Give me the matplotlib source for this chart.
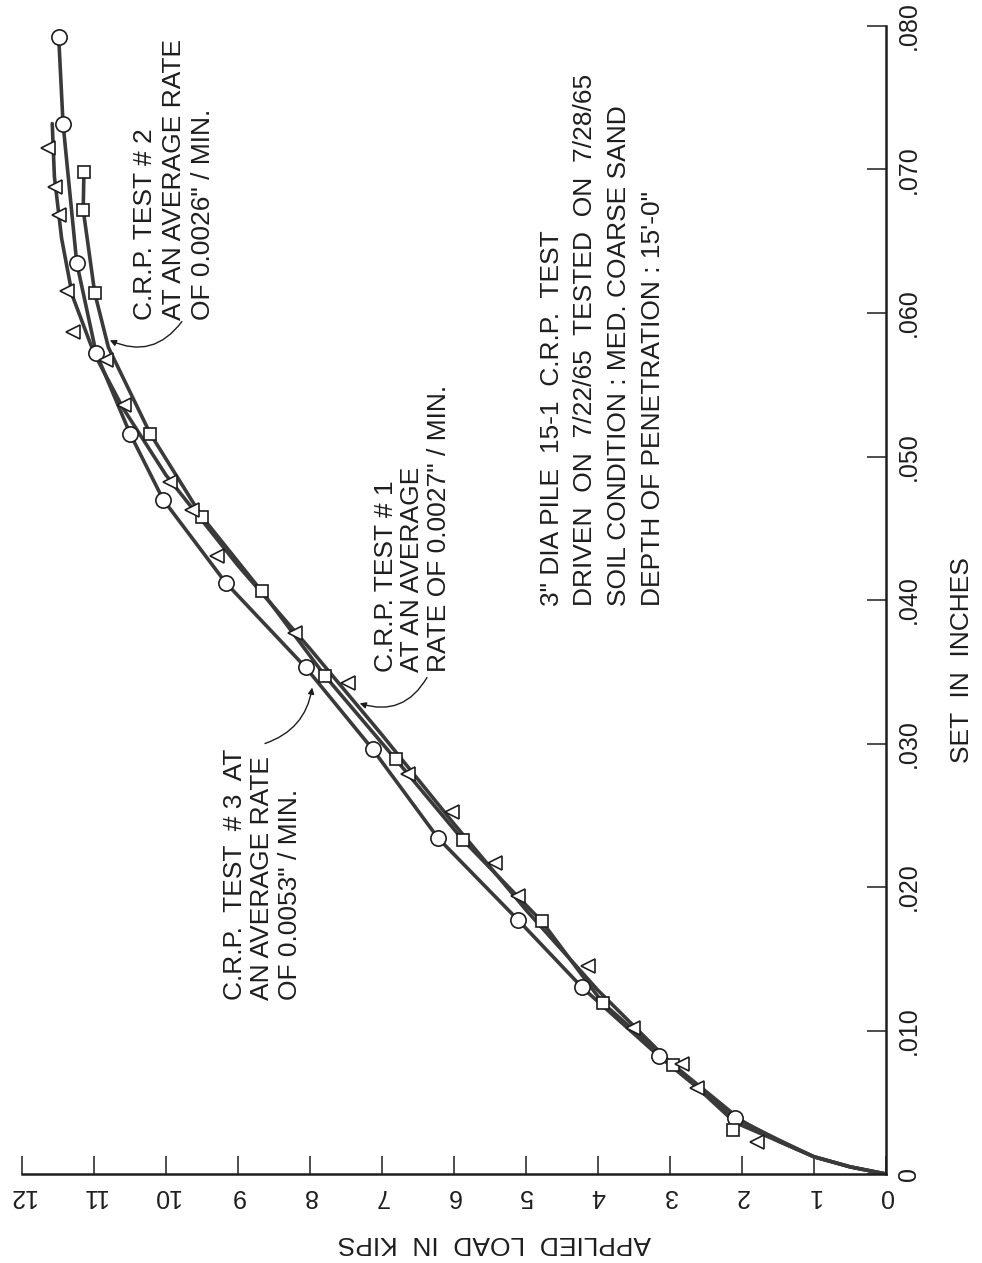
import matplotlib
matplotlib.use("Agg")
import matplotlib.pyplot as plt

# scanned page is turned on its side: load runs right-to-left along the bottom,
# set runs upward on the right-hand axis
W, H = 982, 1263

load_ticks = list(range(0, 13))
load_labels = [str(v) for v in load_ticks]
set_ticks = [0, .010, .020, .030, .040, .050, .060, .070, .080]
set_labels = ["0", ".010", ".020", ".030", ".040", ".050", ".060", ".070", ".080"]

# test 3 (circles), 0.0053"/min
t3_load = [2.10, 3.15, 4.22, 5.11, 6.22, 7.13, 8.06, 9.17, 10.04, 10.50, 10.97, 11.24, 11.43, 11.49]
t3_set = [.0039, .0082, .0130, .0177, .0234, .0296, .0353, .0412, .0470, .0516, .0572, .0635, .0732, .0792]
# test 2 (squares), 0.0026"/min
t2_load = [2.13, 2.96, 3.93, 4.78, 5.88, 6.81, 7.79, 8.67, 9.50, 10.22, 10.99, 11.15, 11.14]
t2_set = [.0031, .0076, .0119, .0176, .0233, .0289, .0347, .0406, .0458, .0516, .0614, .0672, .0698]
# test 1 (triangles), 0.0027"/min
t1_load = [1.79, 2.63, 2.83, 3.51, 4.14, 5.11, 5.43, 6.03, 6.64, 7.47, 8.21, 9.29, 9.64, 9.94,
           10.58, 10.83, 11.29, 11.38, 11.49, 11.54, 11.64]
t1_set = [.0022, .0060, .0077, .0102, .0145, .0194, .0217, .0252, .0279, .0342, .0377, .0431, .0463, .0482,
          .0536, .0567, .0587, .0615, .0668, .0688, .0715]

# faired curves as drawn on the sheet
t3_curve_load = [0, 0.5, 1.0, 1.5, 2.10, 3.15, 4.22, 5.11, 6.22, 7.13, 8.06, 9.17, 10.04, 10.50, 10.97, 11.24, 11.43, 11.49]
t3_curve_set = [0, .0005, .0012, .0024, .0039, .0082, .0130, .0177, .0234, .0296, .0353, .0412, .0470, .0516, .0572, .0635, .0732, .0792]
t2_curve_load = [0, 0.5, 1.0, 1.5, 2.1, 2.96, 3.93, 4.78, 5.88, 6.81, 7.79, 8.67, 9.50, 10.22, 10.80, 10.99, 11.15, 11.14]
t2_curve_set = [0, .0005, .0012, .0023, .0036, .0076, .0119, .0176, .0233, .0289, .0347, .0406, .0458, .0516, .0576, .0614, .0672, .0698]
t1_curve_load = [0, 0.5, 1.0, 1.5, 2.0, 3.0, 4.0, 5.0, 6.0, 7.0, 8.0, 9.0, 10.0, 10.6, 11.0, 11.3, 11.45, 11.55, 11.58]
t1_curve_set = [0, .0005, .0012, .0023, .0037, .0078, .0128, .0184, .0244, .0306, .0366, .0424, .0487, .0534, .0572, .0612, .0652, .0695, .0732]

plt.rcParams["font.family"] = ["Liberation Sans Narrow", "Liberation Sans", "DejaVu Sans"]

fig = plt.figure(figsize=(W / 100, H / 100), dpi=100)
ax = fig.add_axes([22 / W, (H - 1174) / H, 864 / W, 1148 / H])
ax.set_xlim(12, 0)
ax.set_ylim(0, 0.080)

ink = "#1e1e1e"
line_kw = dict(color="#3a3a3a", lw=2.6, solid_joinstyle="round", solid_capstyle="round", zorder=2)
ax.plot(t3_curve_load, t3_curve_set, **line_kw)
ax.plot(t2_curve_load, t2_curve_set, **line_kw)
ax.plot(t1_curve_load, t1_curve_set, **line_kw)

mk = dict(ls="none", mfc="white", mec=ink, mew=1.2, zorder=3, clip_on=False)
ax.plot(t3_load, t3_set, marker="o", ms=11, **mk)
ax.plot(t2_load, t2_set, marker="s", ms=9, **mk)
ax.plot(t1_load, t1_set, marker="<", ms=10, **mk)

for s in ["top", "left"]:
    ax.spines[s].set_visible(False)
for s in ["bottom", "right"]:
    ax.spines[s].set_linewidth(1.8)
    ax.spines[s].set_color(ink)

ax.set_xticks(load_ticks)
ax.set_xticklabels(load_labels)
ax.yaxis.tick_right()
ax.set_yticks(set_ticks)
ax.set_yticklabels(set_labels, va="center")
ax.tick_params(axis="x", direction="in", length=13, width=1.1, pad=7, labelsize=18,
               labelrotation=180, colors=ink)
ax.tick_params(axis="y", direction="in", length=14, width=1.1, pad=8, labelsize=18,
               labelrotation=90, colors=ink)


def fx(x):
    return x / W


def fy(y):
    return 1 - y / H


fig.text(fx(494), fy(1243), "APPLIED  LOAD  IN  KIPS", rotation=180, ha="center", va="center",
         fontsize=19, color=ink)
fig.text(fx(962), fy(660), "SET  IN  INCHES", rotation=90, ha="center", va="center",
         fontsize=19, color=ink)

note_kw = dict(rotation=90, ha="left", va="bottom", multialignment="left", color=ink, fontsize=19)
fig.text(fx(133), fy(320), "C.R.P. TEST # 2\nAT AN AVERAGE RATE\nOF 0.0026\" / MIN.",
         linespacing=1.26, **note_kw)
fig.text(fx(374), fy(672), "C.R.P. TEST # 1\nAT AN AVERAGE\nRATE OF 0.0027\" / MIN.",
         linespacing=1.12, **note_kw)
fig.text(fx(223), fy(1000), "C.R.P.  TEST  # 3  AT\nAN AVERAGE RATE\nOF 0.0053\" / MIN.",
         linespacing=1.18, **note_kw)
fig.text(fx(540), fy(606),
         "3\" DIA PILE  15-1  C.R.P.  TEST\nDRIVEN  ON  7/22/65  TESTED  ON  7/28/65\n"
         "SOIL CONDITION : MED. COARSE SAND\nDEPTH OF PENETRATION : 15'-0\"",
         linespacing=1.5, **note_kw)

arrow = dict(arrowstyle="-|>", lw=1.0, color=ink, mutation_scale=9, shrinkA=0, shrinkB=0)
ax.annotate("", xy=(10.78, .0581), xytext=(9.78, .0594),
            arrowprops=dict(connectionstyle="arc3,rad=-0.4", **arrow))
ax.annotate("", xy=(7.31, .0328), xytext=(6.375, .0346),
            arrowprops=dict(connectionstyle="arc3,rad=-0.4", **arrow))
ax.annotate("", xy=(7.97, .0339), xytext=(8.625, .0300),
            arrowprops=dict(connectionstyle="arc3,rad=0.3", **arrow))

fig.savefig("out.png", dpi=100)
